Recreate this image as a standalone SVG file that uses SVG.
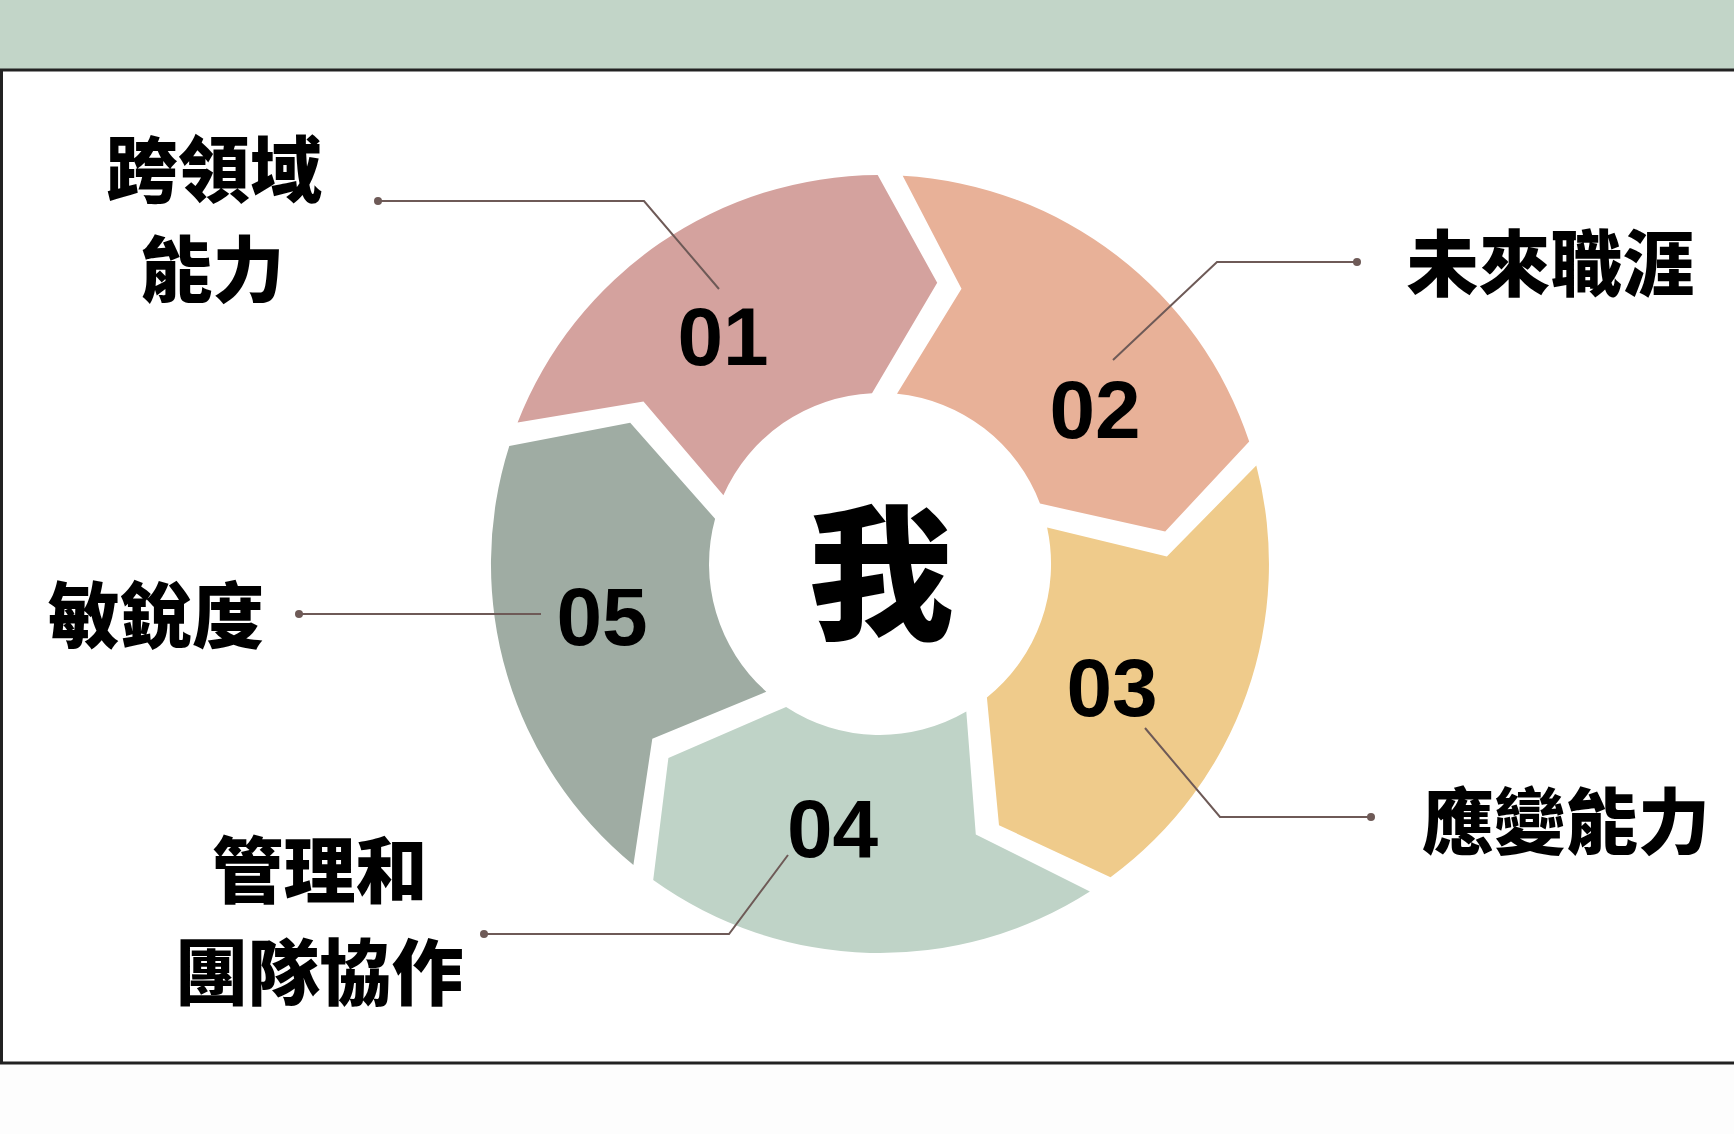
<svg xmlns="http://www.w3.org/2000/svg" width="1734" height="1134" viewBox="0 0 1734 1134">
<style>
.frame{stroke:#222222;stroke-width:3;fill:none}
.seg{stroke:none}
.num{font-family:"Liberation Sans",Arial,sans-serif;font-weight:bold;font-size:82px;fill:#000;text-anchor:middle}
.lbl{font-family:"Noto Sans CJK TC","Noto Sans CJK SC",sans-serif;font-weight:900;font-size:72px;fill:#000;text-anchor:middle}
.center{font-family:"Noto Sans CJK TC","Noto Sans CJK SC",sans-serif;font-weight:900;font-size:145px;fill:#000;text-anchor:middle}
.conn{fill:none;stroke:#6e5a57;stroke-width:2}
.dot{fill:#6e5a57}
</style>
<rect x="0" y="0" width="1734" height="1134" fill="#ffffff"/>
<rect x="0" y="0" width="1734" height="70" fill="#C2D5C8"/>
<rect x="0" y="1064" width="1734" height="70" fill="#FDFDFD"/>
<g id="frame">
<line class="frame" x1="0" y1="70" x2="1734" y2="70"/>
<line class="frame" x1="1.5" y1="70" x2="1.5" y2="1063"/>
<line class="frame" x1="0" y1="1063" x2="1734" y2="1063"/>
</g>
<g id="seg01">
<path class="seg" fill="#D4A29E" d="M517.6,422.4 A389,389 0 0 1 877.7,175.0 L937.2,282.8 L872.0,393.2 A171,171 0 0 0 723.4,495.3 L643.5,401.4 Z"/>
<text class="num" x="723" y="365">01</text>
</g>
<g id="seg02">
<path class="seg" fill="#E8B198" d="M902.7,175.7 A389,389 0 0 1 1249.2,441.6 L1165.2,531.5 L1040.0,503.6 A171,171 0 0 0 897.0,393.8 L961.5,288.8 Z"/>
<text class="num" x="1095" y="438">02</text>
</g>
<g id="seg03">
<path class="seg" fill="#EFCB8B" d="M1256.3,465.5 A389,389 0 0 1 1110.5,877.3 L999.0,825.2 L986.9,697.5 A171,171 0 0 0 1047.1,527.5 L1166.9,556.5 Z"/>
<text class="num" x="1112" y="716">03</text>
</g>
<g id="seg04">
<path class="seg" fill="#BFD3C7" d="M1089.9,891.5 A389,389 0 0 1 653.2,880.1 L668.4,757.9 L786.1,706.9 A171,171 0 0 0 966.3,711.6 L975.8,834.5 Z"/>
<text class="num" x="832.5" y="857">04</text>
</g>
<g id="seg05">
<path class="seg" fill="#9FACA3" d="M633.4,864.9 A389,389 0 0 1 509.3,446.0 L630.2,422.7 L715.1,518.8 A171,171 0 0 0 766.3,691.7 L652.3,738.7 Z"/>
<text class="num" x="602" y="645">05</text>
</g>
<g id="center">
<text class="center" x="881" y="628">我</text>
</g>
<g id="label01">
<text class="lbl" x="214" y="195.5">跨領域</text>
<text class="lbl" x="212.5" y="295.5">能力</text>
</g>
<g id="label02">
<text class="lbl" x="1550.5" y="289.5">未來職涯</text>
</g>
<g id="label03">
<text class="lbl" x="1566" y="847.5">應變能力</text>
</g>
<g id="label04">
<text class="lbl" x="319.5" y="897">管理和</text>
<text class="lbl" x="319.5" y="998.5">團隊協作</text>
</g>
<g id="label05">
<text class="lbl" x="156" y="641.5">敏銳度</text>
</g>
<g id="connectors">
<polyline class="conn" points="378,201 644,201 719,289"/>
<circle class="dot" cx="378" cy="201" r="4"/>
<polyline class="conn" points="1357,262 1217,262 1113,360"/>
<circle class="dot" cx="1357" cy="262" r="4"/>
<polyline class="conn" points="1145,728 1220,817 1371,817"/>
<circle class="dot" cx="1371" cy="817" r="4"/>
<polyline class="conn" points="788,855 729,934 484,934"/>
<circle class="dot" cx="484" cy="934" r="4"/>
<polyline class="conn" points="299,614 541,614"/>
<circle class="dot" cx="299" cy="614" r="4"/>
</g>
</svg>
